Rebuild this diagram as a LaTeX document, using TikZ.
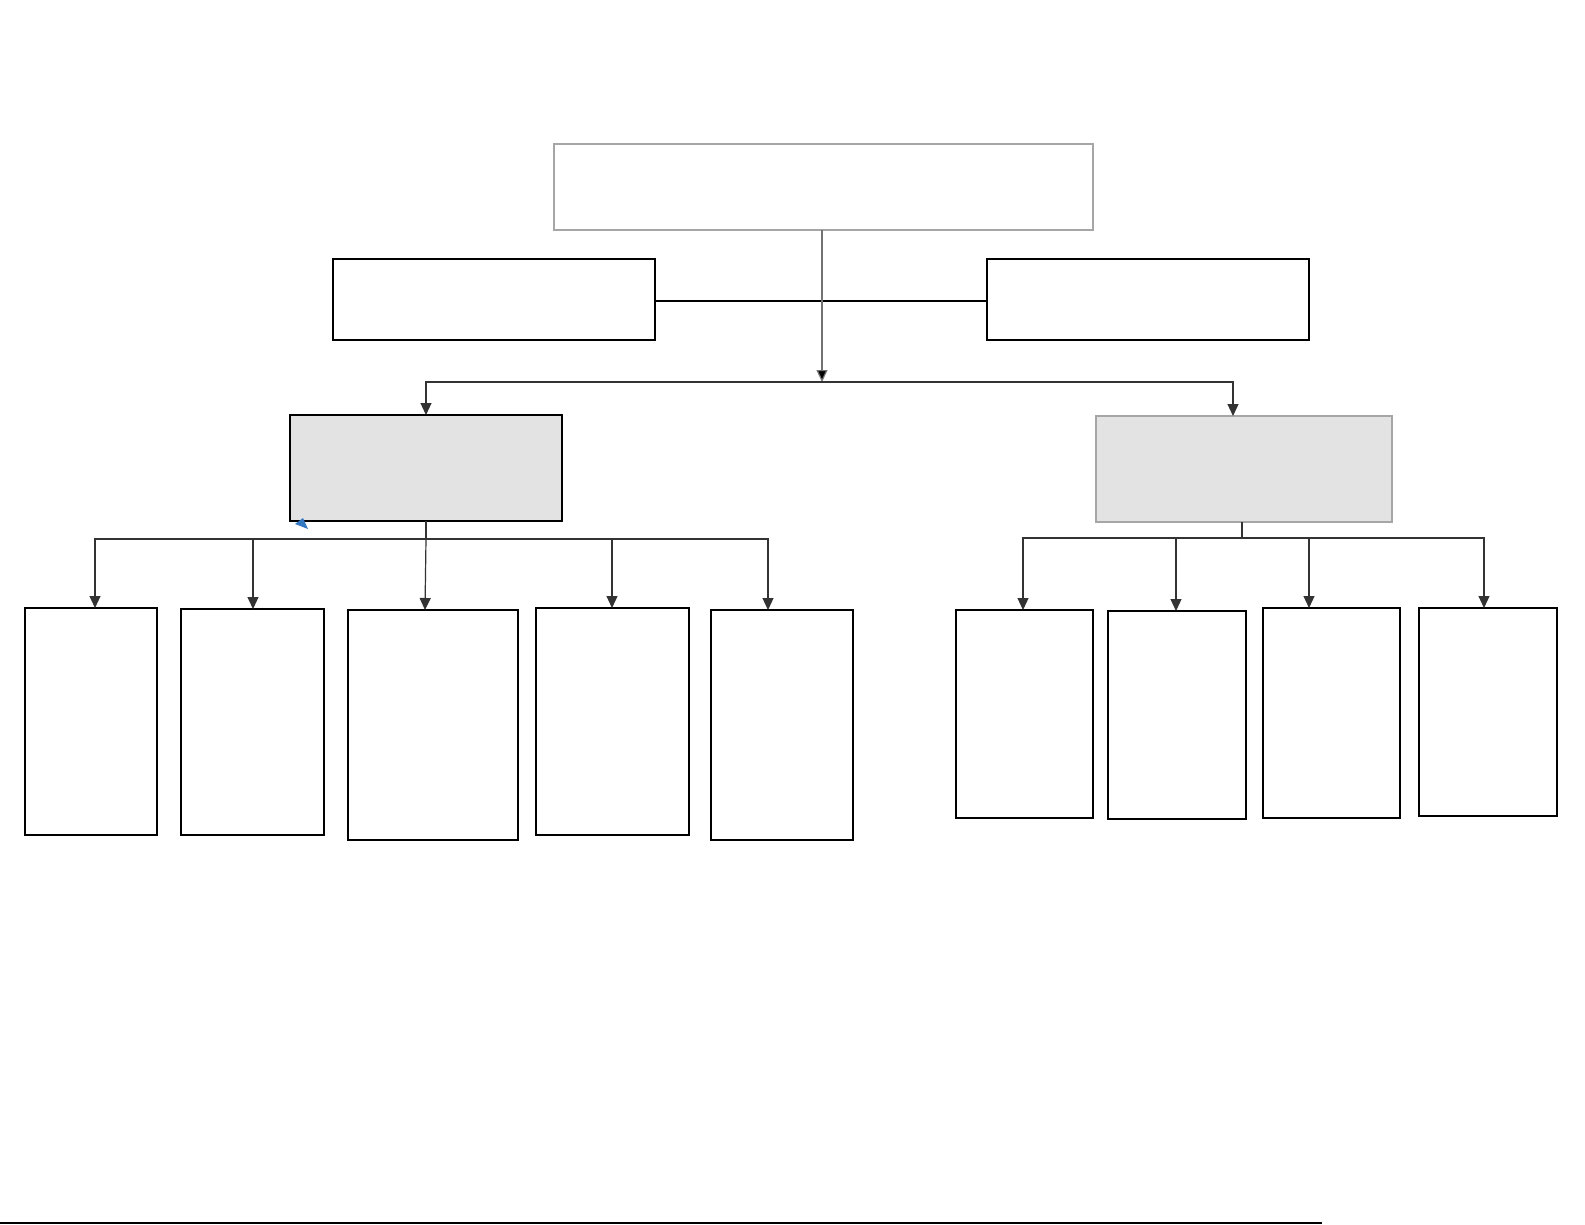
\documentclass[tikz,border=0pt]{standalone}
\usetikzlibrary{arrows.meta}
\begin{document}
\begin{tikzpicture}[x=1pt,y=-1pt,
  box/.style={draw=black,line width=2pt,minimum width=#1,inner sep=0pt,outer sep=0pt},
  gbox/.style={draw=black!35,line width=2pt,inner sep=0pt,outer sep=0pt},
  conn/.style={draw=black!80,line width=1.2pt},
  arr/.style={conn,-{Triangle[length=12pt,width=11pt]}}]
\useasboundingbox[fill=white] (0,0) rectangle (1585,1225);
% top level
\node[gbox,minimum width=539pt,minimum height=86pt] (top) at (823.5,187) {};
\node[box=322pt,minimum height=81pt] (lside) at (494,299.5) {};
\node[box=322pt,minimum height=81pt] (rside) at (1148,299.5) {};
% second level
\node[box=272pt,minimum height=106pt,fill=black!11] (lg) at (426,468) {};
\node[gbox,minimum width=296pt,minimum height=106pt,fill=black!11] (rg) at (1244,469) {};
% left children
\node[box=132pt,minimum height=227pt] (l1) at (91,721.5) {};
\node[box=143pt,minimum height=226pt] (l2) at (252.5,722) {};
\node[box=170pt,minimum height=230pt] (l3) at (433,725) {};
\node[box=153pt,minimum height=227pt] (l4) at (612.5,721.5) {};
\node[box=142pt,minimum height=230pt] (l5) at (782,725) {};
% right children
\node[box=137pt,minimum height=208pt] (r1) at (1024.5,714) {};
\node[box=138pt,minimum height=208pt] (r2) at (1177,715) {};
\node[box=137pt,minimum height=210pt] (r3) at (1331.5,713) {};
\node[box=138pt,minimum height=208pt] (r4) at (1488,712) {};
% coordinates
\coordinate (bus) at (822,382);
\coordinate (rgin) at (1233,416);
\coordinate (lbus) at (426,539);
\coordinate (rbus) at (1242,538);
\coordinate (l1in) at (95,608);
\coordinate (l2in) at (253,609);
\coordinate (l3in) at (425,610);
\coordinate (l4in) at (612,608);
\coordinate (l5in) at (768,610);
\coordinate (r1in) at (1023,610);
\coordinate (r2in) at (1176,611);
\coordinate (r3in) at (1309,608);
\coordinate (r4in) at (1484,608);
\coordinate (midl) at (655,301);
\coordinate (midr) at (987,301);
% connectors
\draw[conn,draw=black] (lside.east |- midl) -- (rside.west |- midr);
\draw[conn,draw=black!55,-{Triangle[length=12pt,width=11pt,fill=black]}] (top.south -| bus) -- (bus);
\draw[arr] (bus) -| (lg.north);
\draw[arr] (bus) -| (rgin);
\draw[conn] (lg.south) -- (lbus);
\draw[arr] (lbus) -| (l1in);
\draw[arr] (lbus) -| (l2in);
\draw[arr] (lbus) -- (l3in);
\draw[arr] (lbus) -| (l4in);
\draw[arr] (lbus) -| (l5in);
\draw[conn] (rg.south -| rbus) -- (rbus);
\draw[arr] (rbus) -| (r1in);
\draw[arr] (rbus) -| (r2in);
\draw[arr] (rbus) -| (r3in);
\draw[arr] (rbus) -| (r4in);
% small blue marker
\fill[blue!50!cyan!70!black!80] (295,524) -- (308,529) -- (303,518) -- cycle;
% bottom rule
\draw[line width=1.5pt] (0,1223) -- (1322,1223);
\end{tikzpicture}
\end{document}
